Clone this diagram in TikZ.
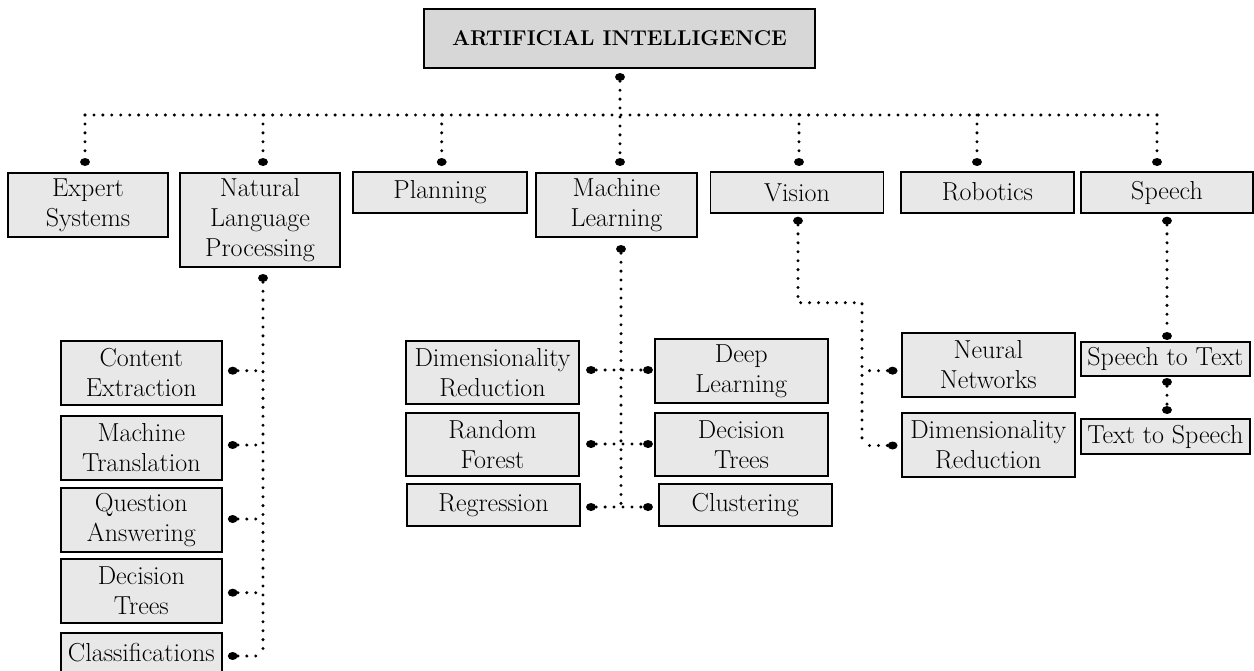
\documentclass[tikz,border=0pt]{standalone}
\usetikzlibrary{shapes.geometric}
\definecolor{boxfill}{RGB}{232,232,232}
\definecolor{topfill}{RGB}{215,215,215}
\begin{document}
\begin{tikzpicture}[x=0.75pt,y=-0.75pt,
  box/.style={draw=black, line width=1.4pt, fill=boxfill, inner sep=0pt, align=center, font=\fontsize{19.5}{22.5}\selectfont},
  sz/.style 2 args={minimum width=#1*0.75pt, minimum height=#2*0.75pt},
  enddot/.style={shape=ellipse, fill=black, inner sep=0pt, minimum width=7.4pt, minimum height=6pt},
  dotline/.style={line width=2.5pt, line cap=round, dash pattern=on 0pt off 6.7pt},
]
\useasboundingbox (0,0) rectangle (1254,671);
% ---------- boxes ----------
\node[box, sz={391}{59}, fill=topfill, font=\bfseries\fontsize{16}{22.5}\selectfont] (ai) at (619.5,38.5) {ARTIFICIAL INTELLIGENCE};
\node[box, sz={160}{64}] (es) at (88,205) {Expert\\Systems};
\node[box, sz={160}{94}] (nlp) at (260,220) {Natural\\Language\\Processing};
\node[box, sz={174}{41}] (plan) at (440,192.5) {Planning};
\node[box, sz={161}{64}] (ml) at (616.5,205) {Machine\\Learning};
\node[box, sz={173}{41}] (vis) at (797,192.5) {Vision};
\node[box, sz={173}{41}] (rob) at (987.5,192.5) {\raisebox{2pt}{Robotics}};
\node[box, sz={172}{41}] (sp) at (1167,192.5) {Speech};
% NLP children
\node[box, sz={160.7}{64.3}] (ce) at (141.3,372.8) {Content\\Extraction};
\node[box, sz={160.7}{64}] (mt) at (141.3,448) {Machine\\Translation};
\node[box, sz={160.7}{64}] (qa) at (141.3,520) {Question\\Answering};
\node[box, sz={160.7}{64}] (dta) at (141.3,591) {Decision\\Trees};
\node[box, sz={160.7}{40}] (cl) at (141.3,652.8) {Classifications};
% ML children
\node[box, sz={173}{63.3}] (dra) at (492.5,372.3) {Dimensionality\\Reduction};
\node[box, sz={172.7}{64}] (dl) at (741.3,371) {Deep\\Learning};
\node[box, sz={173}{63.3}] (rf) at (492.5,444.3) {Random\\Forest};
\node[box, sz={172.7}{63.3}] (dtb) at (741.5,444.3) {Decision\\Trees};
\node[box, sz={173}{41.7}] (rg) at (493.5,504.8) {Regression};
\node[box, sz={172.7}{41.7}] (cu) at (745.3,504.8) {Clustering};
% Vision children
\node[box, sz={173.3}{64}] (nn) at (988.3,365) {Neural\\Networks};
\node[box, sz={173.3}{64}] (drb) at (988.3,444.7) {Dimensionality\\Reduction};
% Speech children
\node[box, sz={169.3}{34.3}] (stt) at (1165.3,358.8) {Speech to Text};
\node[box, sz={169.3}{34.7}] (tts) at (1165.3,436.7) {Text to Speech};
% ---------- dots ----------
\node[enddot] (d0) at (620,77) {};
\coordinate (h0) at (620,115);
\node[enddot] (t1) at (85,162) {};
\node[enddot] (t2) at (263,162) {};
\node[enddot] (t3) at (441.7,162) {};
\node[enddot] (t4) at (620,162) {};
\node[enddot] (t5) at (799,162) {};
\node[enddot] (t6) at (977,162) {};
\node[enddot] (t7) at (1157,162) {};
% NLP
\node[enddot] (b2) at (263,278) {};
\node[enddot] (c1) at (232.7,370.7) {};
\node[enddot] (c2) at (232.7,445) {};
\node[enddot] (c3) at (232.7,519) {};
\node[enddot] (c4) at (232.7,592.7) {};
\node[enddot] (c5) at (232.7,656) {};
% ML
\node[enddot] (b4) at (621,249) {};
\node[enddot] (l1) at (591,370) {};
\node[enddot] (r1) at (648,370) {};
\node[enddot] (l2) at (591,444) {};
\node[enddot] (r2) at (648,444) {};
\node[enddot] (l3) at (591,507) {};
\node[enddot] (r3) at (648,507) {};
% Vision
\node[enddot] (b5) at (798,220.7) {};
\coordinate (v1) at (798,302.7);
\coordinate (v2) at (862,302.7);
\node[enddot] (n1) at (892.6,370.7) {};
\node[enddot] (n2) at (892.6,445.5) {};
% Speech
\node[enddot] (b7) at (1167,220.7) {};
\node[enddot] (s1) at (1167,336) {};
\node[enddot] (s2) at (1167,382) {};
\node[enddot] (s3) at (1167,410) {};
% ---------- connectors ----------
\draw[dotline] (d0) -- (h0) -- (t4);
\draw[dotline] (t1 |- h0) -- (t7 |- h0);
\foreach \t in {t1,t2,t3,t5,t6,t7} {\draw[dotline] (\t |- h0) -- (\t);}
\draw[dotline] (b2) -- (b2 |- c5);
\foreach \c in {c1,c2,c3,c4,c5} {\draw[dotline] (\c) -- (b2 |- \c);}
\draw[dotline] (b4) -- (b4 |- l3);
\draw[dotline] (l1) -- (r1);
\draw[dotline] (l2) -- (r2);
\draw[dotline] (l3) -- (r3);
\draw[dotline] (b5) -- (v1) -- (v2) -- (v2 |- n2);
\draw[dotline] (n1) -- (v2 |- n1);
\draw[dotline] (n2) -- (v2 |- n2);
\draw[dotline] (b7) -- (s1);
\draw[dotline] (s2) -- (s3);
\end{tikzpicture}
\end{document}
